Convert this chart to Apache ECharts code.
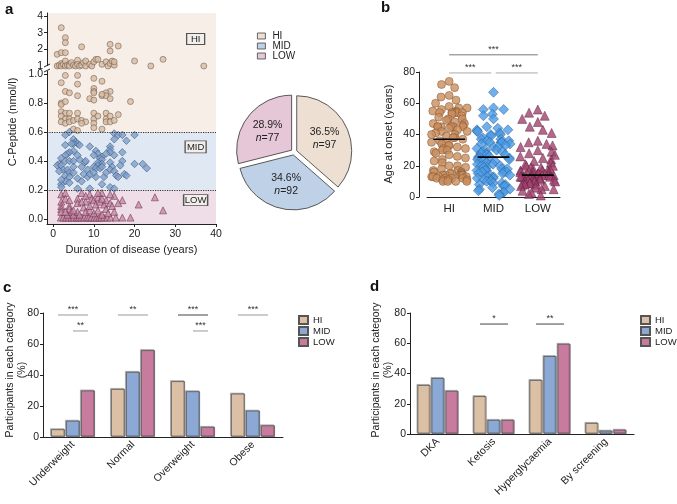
<!DOCTYPE html>
<html>
<head>
<meta charset="utf-8">
<script src="https://cdn.jsdelivr.net/npm/echarts@6/dist/echarts.min.js"></script>
<style>
  html, body { margin: 0; padding: 0; background: #fff; }
  #chart { width: 677px; height: 504px; }
</style>
</head>
<body>
<div id="chart"></div>
<script>
const FONT = 'Arial, "Liberation Sans", sans-serif';
const groups = ['HI', 'MID', 'LOW'];

// panel a: C-peptide vs duration of disease, [years, nmol/l]
const aHi = [
  [2,3.3],[3,2.7],[3,2.4],[7,2.15],[14,2.3],[16,2.2],[14,1.9],[1,1.7],[2,1.8],[3,1.8],
  [1,1.0],[1.5,1.05],[2,1.15],[2,1.0],[2.5,1.1],[3,1.0],[3,1.3],[3.5,1.05],[4,1.1],[4,1.0],
  [4.5,1.2],[5,1.05],[5.5,1.0],[6,1.35],[6,1.1],[6.5,1.0],[7,1.05],[7.5,1.2],[8,1.0],[8,1.3],
  [9,1.1],[9.5,1.0],[10,1.25],[10.5,1.4],[11,1.4],[12,1.1],[13,1.25],[13.5,1.0],[14,1.15],[14.5,1.3],
  [15,1.05],[15,1.25],[20,1.3],[24,1.0],[27,1.4],[37,1.0],
  [3,0.99],[6,0.99],[10,0.97],[12,0.95],[2,0.94],[6,0.93],[10,0.9],[10,0.88],[10,0.87],[14,0.88],
  [13,0.87],[12,0.85],[13,0.85],[3,0.88],[4,0.87],[6,0.85],[9,0.83],[10,0.82],[12,0.86],[14,0.83],
  [2,0.8],[2,0.79],[3,0.81],[19,0.81],[2,0.74],[3,0.73],[4,0.73],[2,0.71],[3,0.69],[4,0.69],
  [2,0.67],[3,0.66],[4,0.67],[5,0.68],[6,0.73],[6,0.69],[7,0.68],[8,0.67],[10,0.73],[10,0.69],
  [11,0.71],[10,0.66],[13,0.73],[13,0.69],[14,0.71],[13,0.67],[14,0.67],[15,0.68],[16,0.72],[5,0.62],
  [6,0.61],[7,0.66],[10,0.63],[12,0.62]
];
const aMid = [
  [4,0.6],[3,0.58],[5,0.55],[5.5,0.53],[6,0.52],[5,0.52],[6.5,0.51],[3,0.51],[4.5,0.52],[9,0.5],
  [15,0.59],[16,0.58],[17,0.58],[20,0.58],[15,0.55],[18,0.54],[14,0.5],[14,0.48],[14,0.46],[17,0.46],
  [15,0.44],[20,0.38],[17,0.4],[10.5,0.47],[11,0.45],[10,0.44],[12,0.43],[11.5,0.42],[12,0.41],[11,0.39],
  [12,0.38],[11,0.37],[10,0.36],[10.5,0.35],[11.5,0.35],[12,0.36],[14,0.39],[14.5,0.36],[14,0.34],[15,0.33],
  [16.5,0.37],[17.5,0.31],[15.5,0.3],[12.5,0.29],[10.5,0.29],[8.5,0.29],[6,0.28],[7.5,0.31],[8.5,0.34],[7.8,0.39],
  [6.5,0.41],[6,0.44],[5,0.47],[4,0.46],[3.5,0.45],[3,0.44],[2,0.42],[1.5,0.38],[1,0.37],[2,0.37],
  [3,0.4],[4,0.4],[5,0.4],[2.5,0.34],[3.5,0.34],[1.5,0.33],[4,0.32],[5,0.32],[3,0.3],[4,0.29],
  [3,0.26],[4,0.25],[2,0.24],[2,0.22],[6,0.21],[9,0.21],[12,0.24],[14,0.22],[15,0.21],[7,0.26],
  [9,0.31],[10,0.32],[13,0.32],[23,0.35],[16,0.29],[18,0.3],[2,0.27],[5,0.36],[7,0.36],[8,0.4],
  [22,0.38],[13,0.45]
];
const aLow = [
  [1.9,0.01],[2.5,0.01],[3.2,0.01],[3.8,0.01],[4.5,0.01],[5.1,0.01],[5.8,0.01],[6.3,0.01],[6.9,0.01],[7.6,0.01],
  [8.3,0.01],[8.8,0.01],[9.4,0.01],[10.1,0.01],[10.7,0.01],[11.3,0.01],[11.8,0.01],[12.5,0.01],[13.3,0.01],[14.1,0.01],
  [15.4,0.01],[17,0.01],[19,0.01],
  [2,0.17],[2,0.12],[2,0.09],[2,0.07],[2,0.05],[3,0.18],[4,0.09],[4,0.07],[4.5,0.05],[5,0.03],
  [3.5,0.03],[6,0.14],[6,0.11],[7,0.18],[7.5,0.08],[8,0.05],[8,0.12],[9,0.17],[9.5,0.14],[10,0.13],
  [10.5,0.1],[11,0.15],[11.5,0.12],[12,0.18],[12.5,0.1],[13,0.07],[13,0.13],[14,0.11],[14.5,0.09],[15,0.16],
  [15,0.05],[10,0.04],[11,0.06],[12,0.03],[13.5,0.04],[6,0.05],[6.5,0.03],[9,0.06],[5,0.06],[17,0.13],
  [21,0.1],[25,0.15],[27,0.06],[3,0.14],[4,0.13],[8,0.16],[11,0.18],[14,0.17],[9,0.09],[3,0.05],
  [12,0.14],[16,0.11],[7,0.12]
];
const aXTicks = [0, 10, 20, 30, 40];
const aYTicksLow = [0, 0.2, 0.4, 0.6, 0.8, 1.0];
const aYTicksHigh = [1, 2, 3, 4];
const aCuts = [0.2, 0.6];

// pie: participants per group
const pieCounts = [97, 92, 77];

// panel b: age at onset (years)
const bHi = [74,72,70,65,64,62,60,58,57,57,56,55,55,54,54,54,54,54,54,53,52,51,50,50,49,48,47,47,46,45,
  45,45,45,45,45,44,43,42,42,41,40,40,39,38,38,37,36,35,35,34,33,33,32,31,31,30,30,29,28,27,
  26,25,24,23,22,20,20,19,18,17,17,16,16,15,15,15,15,14,14,14,14,14,13,13,13,13,12,12,12,12,
  11,11,11,10,10,10,10];
const bMid = [67,57,56,56,53,52,50,45,44,43,43,42,42,41,40,40,39,38,37,37,36,36,35,35,35,35,34,34,33,32,
  32,31,30,30,29,29,28,28,27,27,26,26,25,25,24,24,23,23,22,22,21,21,20,20,19,19,18,18,17,17,
  17,16,16,16,15,15,14,14,13,13,12,12,11,11,10,10,9,9,8,8,7,7,6,5,5,4,3,3,2,1];
const bLow = [56,54,52,50,48,45,43,41,36,35,34,33,32,30,29,28,27,26,25,24,23,22,21,20,20,19,19,18,18,17,
  17,17,16,16,16,15,15,15,15,14,14,14,14,14,13,13,13,13,13,12,12,12,12,12,11,11,11,11,10,10,
  10,10,9,9,9,8,8,8,7,7,6,5,5,4,3,2,1];
const bMeans = [37, 25.5, 14];
// [from x, to x, height, stars]
const bSig = [[0, 2, 91, '***'], [0, 0.95, 79.4, '***'], [1.05, 2, 79.4, '***']];

// panel c: BMI categories (%)
const cCats = ['Underweight', 'Normal', 'Overweight', 'Obese'];
const cHi = [5, 31, 36, 28];
const cMid = [10.5, 42, 29.5, 17];
const cLow = [30, 56, 6.5, 7.5];
// [category, from bar, to bar, height, stars]
const cSig = [[0,0,2,78.7,'***'],[0,1,2,68.4,'**'],[1,0,2,78.7,'**'],[2,0,2,78.7,'***'],[2,1,2,68.4,'***'],[3,0,2,78.7,'***']];

// panel d: presentation at onset (%)
const dCats = ['DKA', 'Ketosis', 'Hyperglycaemia', 'By screening'];
const dHi = [32.4, 25, 35.7, 7.3];
const dMid = [37, 9.3, 51.5, 2.2];
const dLow = [28.5, 9.3, 59.6, 2.8];
const dSig = [[1,0,2,72.7,'*'],[2,0,2,72.7,'**']];

const pieColors = ['#eedfd3', '#bfd1e7', '#e5c7d7'];
const barColors = ['#dcc0a6', '#8ba9d4', '#c67b9f'];
const bandColors = ['#f6eee7', '#dfe8f3', '#efdee7'];

const chart = echarts.init(document.getElementById('chart'));

const axisLine = { show: true, onZero: false, lineStyle: { color: '#222', width: 1 } };
const axisTick = { show: true, length: 3, lineStyle: { color: '#222' } };
const labelStyle = { color: '#222', fontSize: 10.5, fontFamily: FONT };

function sigSeries(list, xIdx, yIdx, color) {
  return {
    type: 'custom', xAxisIndex: xIdx, yAxisIndex: yIdx, silent: true, z: 6, clip: false,
    data: list.map(s => [s[0], s[1], s[2]]),
    renderItem: (params, api) => {
      const s = list[params.dataIndex];
      const p1 = api.coord([s[0], s[2]]);
      const p2 = api.coord([s[1], s[2]]);
      const col = Array.isArray(color) ? color[params.dataIndex] : color;
      return {
        type: 'group',
        children: [
          { type: 'line', shape: { x1: p1[0], y1: p1[1], x2: p2[0], y2: p2[1] }, style: { stroke: col, lineWidth: 1 } },
          { type: 'text', style: { text: s[3], x: (p1[0] + p2[0]) / 2, y: p1[1] - 1, align: 'center', verticalAlign: 'bottom', fontSize: 9, fill: '#333', fontFamily: FONT } }
        ]
      };
    }
  };
}

// bar offsets in category units
function barSig(list, step) {
  return list.map(s => [s[0] + (s[1] - 1) * step, s[0] + (s[2] - 1) * step, s[3], s[4]]);
}

function barSeries(vals, i, xIdx, yIdx, width, gap) {
  return {
    name: groups[i], type: 'bar', xAxisIndex: xIdx, yAxisIndex: yIdx, data: vals,
    barWidth: width, barGap: gap,
    itemStyle: { color: barColors[i], borderColor: '#555', borderWidth: 0.8,
      shadowColor: 'rgba(0,0,0,0.25)', shadowOffsetX: -1, shadowOffsetY: -1 }
  };
}

const bandArea = {
  silent: true, z: 1,
  data: [
    [{ yAxis: 0.6, itemStyle: { color: bandColors[0] } }, { yAxis: 1 }],
    [{ yAxis: 0.2, itemStyle: { color: bandColors[1] } }, { yAxis: 0.6 }],
    [{ yAxis: -0.034, itemStyle: { color: bandColors[2] } }, { yAxis: 0.2 }]
  ]
};

function boxMark(name, x, y, w, h) {
  return {
    name: name, coord: [x, y], symbol: 'rect', symbolSize: [w, h],
    itemStyle: { color: '#f1eeec', borderColor: '#555', borderWidth: 1 },
    label: { show: true, formatter: name, color: '#222', fontSize: 9.5, fontFamily: FONT }
  };
}

const aSym = [
  { symbol: 'circle', size: 6, color: '#d9bba3', border: '#6e5b4d' },
  { symbol: 'diamond', size: 7.5, color: '#7f9fcb', border: '#3a5478' },
  { symbol: 'triangle', size: 7, color: '#c48aa6', border: '#6d2e4c' }
];
const bSym = [
  { symbol: 'circle', size: 8, color: '#c98d5d', border: '#7b4f2c' },
  { symbol: 'diamond', size: 10, color: '#4b9be6', border: '#285a8e' },
  { symbol: 'triangle', size: 9, color: '#a3426f', border: '#5b1d3b' }
];

function aSeries(pts, i, grid) {
  const s = aSym[i];
  return {
    name: 'a-' + groups[i], type: 'scatter', xAxisIndex: grid, yAxisIndex: grid, clip: false,
    data: pts, symbol: s.symbol, symbolSize: s.size, z: 3,
    itemStyle: { color: s.color, borderColor: s.border, borderWidth: 0.7 }
  };
}

const aUpperHi = aSeries(aHi.filter(p => p[1] >= 1), 0, 0);
aUpperHi.markArea = { silent: true, z: 1, data: [[{ yAxis: 0.52, itemStyle: { color: bandColors[0] } }, { yAxis: 4.18 }]] };
aUpperHi.markPoint = { silent: true, data: [boxMark('HI', 35, 2.62, 18, 11)] };
const aLowerHi = aSeries(aHi.filter(p => p[1] < 1), 0, 1);
aLowerHi.markArea = bandArea;
aLowerHi.markLine = {
  silent: true, symbol: 'none', label: { show: false },
  lineStyle: { type: 'dotted', color: '#333', width: 1.2 },
  data: aCuts.map(v => ({ yAxis: v }))
};
const aMidS = aSeries(aMid, 1, 1);
aMidS.markPoint = { silent: true, data: [boxMark('MID', 35, 0.497, 21, 12)] };
const aLowS = aSeries(aLow, 2, 1);
aLowS.markPoint = { silent: true, data: [boxMark('LOW', 35, 0.13, 24, 11)] };

const bData = [bHi, bMid, bLow];
const bSeries = bData.map((vals, i) => ({
  name: 'b-' + groups[i], type: 'scatter', xAxisIndex: 2, yAxisIndex: 2,
  data: vals.map(v => [groups[i], v]),
  symbol: bSym[i].symbol, symbolSize: bSym[i].size,
  itemStyle: { color: bSym[i].color, borderColor: bSym[i].border, borderWidth: 0.6 }
}));

const meanSeries = {
  type: 'custom', xAxisIndex: 3, yAxisIndex: 2, silent: true, z: 6,
  data: bMeans.map((m, i) => [i, m]),
  renderItem: (params, api) => {
    const p1 = api.coord([api.value(0) - 0.36, api.value(1)]);
    const p2 = api.coord([api.value(0) + 0.36, api.value(1)]);
    return { type: 'line', shape: { x1: p1[0], y1: p1[1], x2: p2[0], y2: p2[1] }, style: { stroke: '#000', lineWidth: 1.6 } };
  }
};

const pieTotal = pieCounts.reduce((a, b) => a + b, 0);

const option = {
  animation: false,
  backgroundColor: '#fff',
  textStyle: { fontFamily: FONT },
  grid: [
    { left: 47, top: 13, width: 169, height: 61 },
    { left: 47, top: 74, width: 169, height: 150 },
    { left: 427, top: 72, width: 133, height: 125 },
    { left: 43, top: 313, width: 240, height: 124 },
    { left: 410, top: 313, width: 224, height: 121 }
  ],
  xAxis: [
    { type: 'value', gridIndex: 0, min: -1.5, max: 40, show: false },
    { type: 'value', gridIndex: 1, min: -1.5, max: 40, z: 3,
      axisLine, axisTick: Object.assign({ customValues: aXTicks }, axisTick),
      axisLabel: Object.assign({ customValues: aXTicks, margin: 5 }, labelStyle),
      splitLine: { show: false },
      name: 'Duration of disease (years)', nameLocation: 'middle', nameGap: 20,
      nameTextStyle: { color: '#222', fontSize: 11 } },
    { type: 'category', gridIndex: 2, data: groups, jitter: 40, jitterOverlap: false, jitterMargin: 0.3,
      axisLine, axisTick: { show: false },
      axisLabel: Object.assign({}, labelStyle, { fontSize: 11.5, margin: 6 }) },
    { type: 'value', gridIndex: 2, min: -0.5, max: 2.5, show: false },
    { type: 'category', gridIndex: 3, data: cCats, axisLine, axisTick: { show: false },
      axisLabel: Object.assign({}, labelStyle, { rotate: 45, margin: 6 }) },
    { type: 'value', gridIndex: 3, min: -0.5, max: 3.5, show: false },
    { type: 'category', gridIndex: 4, data: dCats, axisLine, axisTick: { show: false },
      axisLabel: Object.assign({}, labelStyle, { rotate: 45, margin: 6 }) },
    { type: 'value', gridIndex: 4, min: -0.5, max: 3.5, show: false }
  ],
  yAxis: [
    { type: 'value', gridIndex: 0, min: 0.52, max: 4.18, z: 3,
      axisLine, axisTick: Object.assign({ customValues: aYTicksHigh }, axisTick),
      axisLabel: Object.assign({ customValues: aYTicksHigh, margin: 4 }, labelStyle),
      splitLine: { show: false } },
    { type: 'value', gridIndex: 1, min: -0.034, max: 1, z: 3,
      axisLine, axisTick: Object.assign({ customValues: aYTicksLow }, axisTick),
      axisLabel: Object.assign({ customValues: aYTicksLow, margin: 4, formatter: v => v.toFixed(1) }, labelStyle),
      splitLine: { show: false } },
    { type: 'value', gridIndex: 2, min: 0, max: 80, interval: 20, offset: 8,
      axisLine, axisTick, axisLabel: Object.assign({ margin: 4 }, labelStyle), splitLine: { show: false } },
    { type: 'value', gridIndex: 3, min: 0, max: 80, interval: 20,
      axisLine, axisTick, axisLabel: Object.assign({ margin: 4 }, labelStyle), splitLine: { show: false } },
    { type: 'value', gridIndex: 4, min: 0, max: 80, interval: 20,
      axisLine, axisTick, axisLabel: Object.assign({ margin: 4 }, labelStyle), splitLine: { show: false } }
  ],
  legend: [
    { left: 257, top: 31, padding: 0, orient: 'vertical', selectedMode: false, icon: 'rect',
      itemWidth: 8, itemHeight: 6, itemGap: 0,
      textStyle: { fontSize: 10, color: '#222', lineHeight: 10, padding: [0, 0, 0, 2] },
      data: groups.map((g, i) => ({ name: g, itemStyle: { color: pieColors[i], borderColor: '#444', borderWidth: 0.8 } })) },
    { left: 298, top: 315, padding: 0, orient: 'vertical', selectedMode: false, icon: 'rect',
      itemWidth: 9, itemHeight: 8, itemGap: 1,
      textStyle: { fontSize: 9.5, color: '#222', lineHeight: 9 }, data: groups },
    { left: 640, top: 315, padding: 0, orient: 'vertical', selectedMode: false, icon: 'rect',
      itemWidth: 9, itemHeight: 8, itemGap: 1,
      textStyle: { fontSize: 9.5, color: '#222', lineHeight: 9 }, data: groups }
  ],
  series: [
    aUpperHi, aLowerHi, aMidS, aLowS,
    {
      type: 'pie', center: [294, 152], radius: 55, startAngle: 90, silent: true,
      selectedMode: 'multiple', selectedOffset: 3,
      itemStyle: { borderColor: '#333', borderWidth: 0.8 },
      label: {
        position: 'inside', color: '#222', fontSize: 10.5, lineHeight: 13,
        formatter: p => '{t|' + (p.value / pieTotal * 100).toFixed(1) + '%}\n{i|n}{t|=' + p.value + '}',
        rich: { t: { fontSize: 10.5, color: '#222' }, i: { fontSize: 10.5, color: '#222', fontStyle: 'italic' } }
      },
      labelLine: { show: false },
      data: groups.map((g, i) => ({ name: g, value: pieCounts[i], selected: true, itemStyle: { color: pieColors[i] } }))
    },
    ...bSeries,
    meanSeries,
    sigSeries(bSig, 3, 2, ['#777', '#aaa', '#aaa']),
    barSeries(cHi, 0, 4, 3, 14, '7%'),
    barSeries(cMid, 1, 4, 3, 14, '7%'),
    barSeries(cLow, 2, 4, 3, 14, '7%'),
    sigSeries(barSig(cSig, 0.25), 5, 3, ['#999', '#999', '#999', '#444', '#999', '#999']),
    barSeries(dHi, 0, 6, 4, 13, '8%'),
    barSeries(dMid, 1, 6, 4, 13, '8%'),
    barSeries(dLow, 2, 6, 4, 13, '8%'),
    sigSeries(barSig(dSig, 0.25), 7, 4, '#444')
  ],
  graphic: [
    { type: 'text', left: 5, top: 2, style: { text: 'a', fontSize: 15, fontWeight: 'bold', fill: '#111', fontFamily: FONT } },
    { type: 'text', left: 381, top: 0, style: { text: 'b', fontSize: 15, fontWeight: 'bold', fill: '#111', fontFamily: FONT } },
    { type: 'text', left: 3, top: 280, style: { text: 'c', fontSize: 15, fontWeight: 'bold', fill: '#111', fontFamily: FONT } },
    { type: 'text', left: 370, top: 279, style: { text: 'd', fontSize: 15, fontWeight: 'bold', fill: '#111', fontFamily: FONT } },
    { type: 'text', x: 13, y: 122, rotation: Math.PI / 2,
      style: { text: 'C-Peptide (nmol/l)', fontSize: 11, fill: '#222', align: 'center', verticalAlign: 'middle', fontFamily: FONT } },
    { type: 'text', x: 389, y: 134, rotation: Math.PI / 2,
      style: { text: 'Age at onset (years)', fontSize: 11, fill: '#222', align: 'center', verticalAlign: 'middle', fontFamily: FONT } },
    { type: 'text', x: 16, y: 370, rotation: Math.PI / 2,
      style: { text: 'Participants in each category\n(%)', fontSize: 10.5, lineHeight: 12, fill: '#222', align: 'center', verticalAlign: 'middle', fontFamily: FONT } },
    { type: 'text', x: 382, y: 370, rotation: Math.PI / 2,
      style: { text: 'Participants in each category\n(%)', fontSize: 10.5, lineHeight: 12, fill: '#222', align: 'center', verticalAlign: 'middle', fontFamily: FONT } },
    // axis break on panel a
    { type: 'rect', shape: { x: 44, y: 66, width: 7, height: 5 }, style: { fill: '#fff' }, z: 10 },
    { type: 'line', shape: { x1: 44, y1: 67, x2: 50, y2: 64 }, style: { stroke: '#222', lineWidth: 1 }, z: 11 },
    { type: 'line', shape: { x1: 44, y1: 72, x2: 50, y2: 69 }, style: { stroke: '#222', lineWidth: 1 }, z: 11 }
  ]
};

chart.setOption(option);
</script>
</body>
</html>
